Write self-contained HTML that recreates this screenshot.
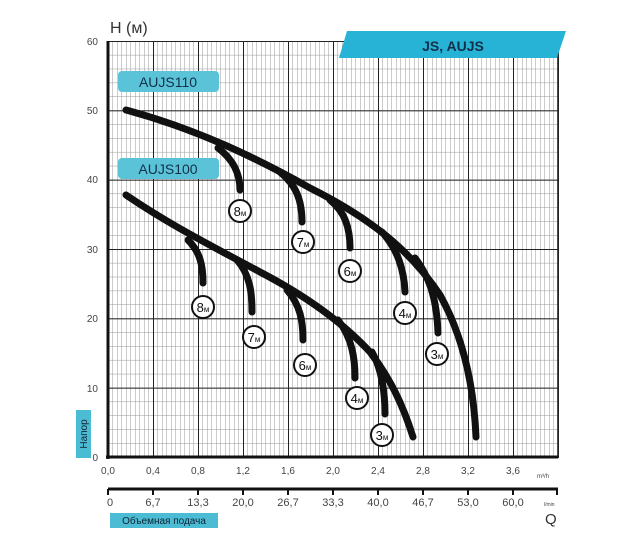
<!DOCTYPE html>
<html><head><meta charset="utf-8"><style>
body{margin:0;background:#fff;width:640px;height:545px;overflow:hidden;font-family:"Liberation Sans",sans-serif}
</style></head><body>
<svg width="640" height="545" xmlns="http://www.w3.org/2000/svg" font-family="Liberation Sans, sans-serif">
<defs>
<pattern id="mn" x="108" y="41" width="4.5" height="13.8667" patternUnits="userSpaceOnUse">
<line x1="0" y1="0" x2="0" y2="13.8667" stroke="#999" stroke-width="1"/>
<line x1="0" y1="0" x2="4.5" y2="0" stroke="#999" stroke-width="1"/>
</pattern>
<pattern id="mj" x="108" y="41" width="45" height="69.3333" patternUnits="userSpaceOnUse">
<line x1="0" y1="0" x2="0" y2="69.3333" stroke="#222" stroke-width="2"/>
<line x1="0" y1="0" x2="45" y2="0" stroke="#222" stroke-width="2"/>
</pattern>
</defs>
<rect x="108" y="41" width="451" height="417" fill="url(#mn)"/>
<rect x="108" y="41" width="451" height="417" fill="url(#mj)"/>
<line x1="558" y1="41" x2="558" y2="457" stroke="#222" stroke-width="1.6"/>
<line x1="108" y1="41" x2="108" y2="459" stroke="#111" stroke-width="3"/>
<line x1="106" y1="457" x2="558" y2="457" stroke="#111" stroke-width="3"/>
<g font-size="10" fill="#444" text-anchor="end">
<text x="98" y="45">60</text><text x="98" y="114">50</text><text x="98" y="183">40</text>
<text x="98" y="253">30</text><text x="98" y="322">20</text><text x="98" y="392">10</text><text x="98" y="461">0</text>
</g>
<g font-size="10" fill="#444" text-anchor="middle">
<text x="108" y="474">0,0</text><text x="153" y="474">0,4</text><text x="198" y="474">0,8</text><text x="243" y="474">1,2</text><text x="288" y="474">1,6</text><text x="333" y="474">2,0</text><text x="378" y="474">2,4</text><text x="423" y="474">2,8</text><text x="468" y="474">3,2</text><text x="513" y="474">3,6</text>
</g>
<text x="537" y="478" font-size="6" fill="#444">m³/h</text>
<line x1="108" y1="489" x2="558" y2="489" stroke="#111" stroke-width="3"/>
<g stroke="#111" stroke-width="2">
<line x1="108" y1="489" x2="108" y2="495"/><line x1="153" y1="489" x2="153" y2="495"/><line x1="198" y1="489" x2="198" y2="495"/><line x1="243" y1="489" x2="243" y2="495"/><line x1="288" y1="489" x2="288" y2="495"/><line x1="333" y1="489" x2="333" y2="495"/><line x1="378" y1="489" x2="378" y2="495"/><line x1="423" y1="489" x2="423" y2="495"/><line x1="468" y1="489" x2="468" y2="495"/><line x1="513" y1="489" x2="513" y2="495"/><line x1="557" y1="489" x2="557" y2="495"/>
</g>
<g font-size="11" fill="#444" text-anchor="middle">
<text x="110" y="506">0</text><text x="153" y="506">6,7</text><text x="198" y="506">13,3</text><text x="243" y="506">20,0</text><text x="288" y="506">26,7</text><text x="333" y="506">33,3</text><text x="378" y="506">40,0</text><text x="423" y="506">46,7</text><text x="468" y="506">53,0</text><text x="513" y="506">60,0</text>
</g>
<text x="544" y="506" font-size="5" fill="#444">l/min</text>
<text x="545" y="524" font-size="15" fill="#333">Q</text>
<rect x="110" y="513" width="108" height="15" fill="#4bbcd4"/>
<text x="164" y="524" font-size="10" fill="#123" text-anchor="middle">Объемная подача</text>
<rect x="76" y="410" width="15" height="48" fill="#4bbcd4"/>
<text transform="translate(87,434) rotate(-90)" font-size="10" fill="#123" text-anchor="middle">Напор</text>
<text x="110" y="33" font-size="16" fill="#333">H (м)</text>
<polygon points="347,31 566,31 557,58 339,58" fill="#26b3d6"/>
<text x="453" y="51" font-size="14" font-weight="bold" fill="#12304a" text-anchor="middle">JS, AUJS</text>
<rect x="118" y="71" width="101" height="21" rx="4" fill="#5bc3d8"/>
<text x="168" y="87" font-size="14" fill="#12304a" text-anchor="middle">AUJS110</text>
<rect x="118" y="158" width="101" height="21" rx="4" fill="#5bc3d8"/>
<text x="168" y="174" font-size="14" fill="#12304a" text-anchor="middle">AUJS100</text>
<g fill="none" stroke="#111" stroke-width="7" stroke-linecap="round">
<path d="M126,110 C200,130 260,160 310,188 C370,218 410,250 440,295 C465,340 474,390 476,437"/>
<path d="M218,148 C234,160 240,175 240,190"/>
<path d="M280,172 C296,185 302,200 302,222"/>
<path d="M330,200 C345,212 350,228 350,248"/>
<path d="M382,232 C398,250 404,270 405,292"/>
<path d="M415,258 C432,280 437,305 438,333"/>
<path d="M126,195 C170,225 210,245 260,272 C310,298 345,325 370,352 C390,378 403,405 413,437"/>
<path d="M188,240 C200,252 203,265 203,283"/>
<path d="M237,260 C250,275 252,292 252,312"/>
<path d="M287,290 C300,305 303,320 303,340"/>
<path d="M338,320 C352,338 355,358 355,378"/>
<path d="M372,352 C383,372 385,395 385,414"/>
</g>
<g fill="#fff" stroke="#111" stroke-width="2">
<circle cx="240" cy="211" r="11"/><circle cx="303" cy="242" r="11"/><circle cx="350" cy="271" r="11"/><circle cx="405" cy="313" r="11"/><circle cx="437" cy="354" r="11"/>
<circle cx="203" cy="307" r="11"/><circle cx="254" cy="337" r="11"/><circle cx="305" cy="365" r="11"/><circle cx="357" cy="398" r="11"/><circle cx="382" cy="435" r="11"/>
</g>
<g font-size="13" fill="#111" text-anchor="middle">
<text x="240" y="216">8<tspan font-size="8">м</tspan></text><text x="303" y="247">7<tspan font-size="8">м</tspan></text><text x="350" y="276">6<tspan font-size="8">м</tspan></text><text x="405" y="318">4<tspan font-size="8">м</tspan></text><text x="437" y="359">3<tspan font-size="8">м</tspan></text>
<text x="203" y="312">8<tspan font-size="8">м</tspan></text><text x="254" y="342">7<tspan font-size="8">м</tspan></text><text x="305" y="370">6<tspan font-size="8">м</tspan></text><text x="357" y="403">4<tspan font-size="8">м</tspan></text><text x="382" y="440">3<tspan font-size="8">м</tspan></text>
</g>
</svg>
</body></html>
